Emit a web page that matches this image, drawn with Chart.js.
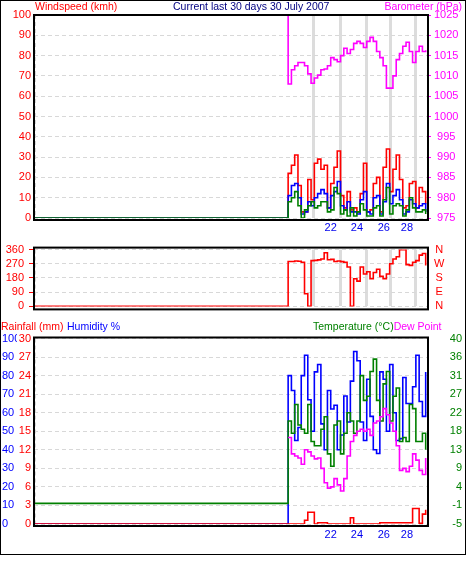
<!DOCTYPE html>
<html>
<head>
<meta charset="utf-8">
<script src="https://cdn.jsdelivr.net/npm/chart.js@4.4.0/dist/chart.umd.min.js"></script>
<style>
  html, body { margin: 0; padding: 0; background: #fff; }
  #page { position: relative; width: 466px; height: 563px; font: 10.5px "Liberation Sans", Arial, sans-serif; }
  #outline { position: absolute; left: 0; top: 0; width: 464px; height: 553px; border: 1px solid #000; }
  canvas { position: absolute; left: 0; }
  .lbl { position: absolute; white-space: nowrap; line-height: 12px; }
</style>
</head>
<body>
<div id="page">
  <div id="outline"></div>
  <canvas id="windChart" width="466" height="236" style="top:0"></canvas>
  <canvas id="dirChart" width="466" height="84" style="top:236px"></canvas>
  <canvas id="tempChart" width="466" height="243" style="top:320px"></canvas>

  <div class="lbl" style="left:35px;top:0;color:#ff0000">Windspeed (kmh)</div>
  <div class="lbl" style="left:173px;top:0;color:#000080">Current last 30 days 30 July 2007</div>
  <div class="lbl" style="right:4px;top:0;color:#ff00ff">Barometer (hPa)</div>

  <div class="lbl" style="left:1px;top:320px;color:#ff0000">Rainfall (mm)</div>
  <div class="lbl" style="left:67px;top:320px;color:#0000ff">Humidity %</div>
  <div class="lbl" style="left:313px;top:320px"><span style="color:#008000">Temperature (°C)</span><span style="color:#ff00ff">Dew Point</span></div>
</div>

<script>
// --- Data (x = day of the 30 day window; first point is the empty period before logging) ---

const days = [0,
  19.4, 19.65, 19.9, 20.15, 20.4, 20.65, 20.9, 21.15, 21.4, 21.65,
  21.9, 22.15, 22.4, 22.65, 22.9, 23.15, 23.4, 23.65, 23.9, 24.15,
  24.4, 24.65, 24.9, 25.15, 25.4, 25.65, 25.9, 26.15, 26.4, 26.65,
  26.9, 27.15, 27.4, 27.65, 27.9, 28.15, 28.4, 28.65, 28.9, 29.15,
  29.4, 29.65, 29.9];

const gustSpeed = [0,
  22, 26, 31, 16, 3, 3, 19, 9, 27, 29,
  24, 26, 5, 17, 25, 33, 11, 5, 13, 4,
  5, 3, 12, 27, 3, 4, 17, 20, 3, 25,
  34, 13, 24, 31, 19, 5, 6, 17, 18, 5,
  15, 13, 7];

const avgSpeed = [0,
  11, 16, 17, 10, 2, 3, 8, 6, 10, 12,
  14, 12, 5, 11, 13, 18, 6, 4, 8, 3,
  3, 2, 9, 13, 3, 2, 10, 11, 2, 8,
  17, 7, 11, 14, 9, 2, 3, 9, 7, 5,
  6, 7, 3];

const lowSpeed = [0,
  8, 10, 13, 6, 0, 4, 6, 8, 5, 6,
  8, 8, 3, 4, 15, 12, 2, 4, 1, 5,
  1, 3, 7, 4, 1, 1, 5, 6, 1, 9,
  15, 2, 6, 7, 6, 1, 4, 10, 5, 3,
  3, 4, 2];

const pressure = [1030,
  1008, 1011.5, 1012.5, 1013.3, 1013.3, 1012.5, 1010.5, 1008.2, 1009.5, 1010.2,
  1011.5, 1011.7, 1012.5, 1014.5, 1014, 1013.5, 1015, 1016.8, 1015.5, 1016.5,
  1018, 1018.5, 1018, 1017, 1018.5, 1019.5, 1018.5, 1016, 1014.5, 1012.5,
  1007, 1007, 1010, 1014, 1015.5, 1017.3, 1018.3, 1016, 1013.3, 1016,
  1017.3, 1016, 1016.3];

const windDir = [0,
  285, 285, 288, 286, 280, 80, 0, 290, 292, 295,
  300, 340, 296, 298, 285, 288, 284, 280, 250, 0,
  175, 160, 250, 205, 220, 175, 215, 235, 190, 175,
  205, 270, 300, 315, 360, 360, 265, 260, 280, 290,
  325, 335, 260];

const humidity = [0,
  80, 72, 45, 52, 80, 91, 67, 50, 82, 86,
  54, 40, 72, 62, 64, 40, 48, 69, 55, 77,
  93, 88, 55, 45, 78, 58, 40, 38, 82, 78,
  50, 86, 60, 45, 46, 79, 65, 65, 74, 91,
  66, 58, 82];

const temperature = [0,
  20, 17, 24, 19, 18, 17, 24, 15, 14, 14,
  18, 21, 12, 9, 19, 20, 12, 17, 22, 20,
  17, 20, 31, 25, 26, 32, 35, 25, 20, 29,
  32, 20, 26, 28, 15, 16, 15, 24, 23, 15,
  15, 17, 13];

const dewPoint = [null,
  16, 12, 11.5, 11, 9.5, 13, 12.5, 11.5, 10.8, 11,
  8.5, 5, 3.7, 4, 6, 4.5, 3, 6, 11.5, 15,
  16.5, 17.5, 18, 17.5, 18, 16.5, 19.5, 20, 21, 23,
  21.5, 19.5, 17.5, 14, 8, 8.5, 7.7, 9, 12, 10.5,
  8, 7, 11];

const rainfall = [0,
  0, 0, 0, 0, 0, 0.6, 1.9, 1.9, 0, 0.2,
  0.2, 0.2, 0, 0, 0, 0, 0, 0, 0, 1.0,
  0, 0, 0, 0, 0, 0, 0, 0, 0.2, 0.2,
  0.2, 0.2, 0.2, 0.2, 0.2, 0.2, 0.2, 0.2, 2.5, 2.5,
  0.1, 1.6, 2.3];

// axis ticks
const midnightDays = [21.35, 23.36, 25.4, 27.18, 29.14];
const labelDays = [22.65, 24.65, 26.7, 28.47];
const dayLabels = ['22', '24', '26', '28'];
const dirLabels = ['N', 'E', 'S', 'W', 'N'];
const tempTicks = [-5, -0.5, 4, 8.5, 13, 17.5, 22, 26.5, 31, 35.5, 40];
const tempTickLabels = ['-5', '-1', '4', '9', '13', '18', '22', '27', '31', '36', '40'];

// --- Helpers ---

Chart.defaults.font.family = '"Liberation Sans", Arial, sans-serif';
Chart.defaults.font.size = 11;

const GRID = '#d8d8d8';
const DASH = [4, 3];

const pts = arr => days.map((d, i) => ({ x: d, y: arr[i] }));
const plain = v => String(v);

function line(data, color, yAxisID) {
  return {
    data: pts(data),
    borderColor: color,
    borderWidth: 1.6,
    pointRadius: 0,
    stepped: true,
    fill: false,
    yAxisID: yAxisID,
    xAxisID: 'x',
  };
}

const fit = (w, h) => s => {
  if (w !== undefined) s.width = w;
  if (h !== undefined) s.height = h;
};

// frame drawn round the plot area
const framePlugin = {
  id: 'frame',
  afterDraw(chart, args, opts) {
    const { ctx, chartArea: a } = chart;
    ctx.save();
    ctx.strokeStyle = '#000';
    ctx.lineWidth = 2;
    ctx.strokeRect(a.left, a.top - opts.top, a.right - a.left + 1, a.bottom - a.top + opts.top + opts.bottom);
    ctx.restore();
  },
};

function xAxes(opts) {
  const scales = {
    x: {
      type: 'linear', min: 0, max: 30, weight: 2,
      display: opts.labels,
      grid: { display: false, drawTicks: false },
      border: { display: false },
      afterBuildTicks: s => { s.ticks = labelDays.map(v => ({ value: v })); },
      ticks: { autoSkip: false, maxRotation: 0, color: '#0000ee', padding: opts.pad || 0, callback: (v, i) => dayLabels[i] },
      afterFit: fit(undefined, opts.height),
    },
    xl: {
      type: 'linear', min: 0, max: 30, position: 'bottom', weight: 0,
      grid: { color: GRID, drawTicks: false },
      border: { display: false, dash: DASH },
      afterBuildTicks: s => { s.ticks = [{ value: 0.13 }]; },
      ticks: { display: false },
      afterFit: fit(undefined, 0),
    },
  };
  if (opts.midnight) {
    scales.xg = {
      type: 'linear', min: 0, max: 30, position: 'bottom', weight: 1,
      grid: { color: '#dcdcdc', lineWidth: 3, drawTicks: false },
      border: { display: false },
      afterBuildTicks: s => { s.ticks = midnightDays.map(v => ({ value: v })); },
      ticks: { display: false },
      afterFit: fit(undefined, 0),
    };
  }
  return scales;
}

const baseOptions = {
  responsive: false,
  devicePixelRatio: 1,
  animation: false,
  events: [],
};

// --- Charts ---

function initWindChart() {
  new Chart(document.getElementById('windChart'), {
    type: 'line',
    data: {
      datasets: [
        line(lowSpeed, '#008000', 'yw'),
        line(avgSpeed, '#0000ff', 'yw'),
        line(gustSpeed, '#ff0000', 'yw'),
        line(pressure, '#ff00ff', 'yb'),
      ],
    },
    options: {
      ...baseOptions,
      layout: { padding: { top: 15, left: 0, right: 0, bottom: 0 } },
      plugins: { legend: { display: false }, tooltip: { enabled: false }, frame: { top: 0, bottom: 2 } },
      scales: {
        ...xAxes({ labels: true, midnight: true, height: 18, pad: 3 }),
        yw: {
          position: 'left', min: 0, max: 100,
          ticks: { stepSize: 10, autoSkip: false, color: '#ff0000', padding: 3, callback: plain },
          grid: { color: GRID, drawTicks: false },
          border: { display: false, dash: DASH },
          afterFit: fit(34),
        },
        yb: {
          position: 'right', min: 975, max: 1025,
          ticks: { stepSize: 5, autoSkip: false, color: '#ff00ff', padding: 3, crossAlign: 'center', callback: plain },
          grid: { drawOnChartArea: false, drawTicks: true, tickLength: 4, tickColor: '#ff00ff', tickBorderDash: [] },
          border: { display: false },
          afterFit: fit(39),
        },
      },
    },
    plugins: [framePlugin],
  });
}

function initDirChart() {
  new Chart(document.getElementById('dirChart'), {
    type: 'line',
    data: {
      datasets: [line(windDir, '#ff0000', 'yd')],
    },
    options: {
      ...baseOptions,
      layout: { padding: { top: 9, left: 0, right: 0, bottom: 9 } },
      plugins: { legend: { display: false }, tooltip: { enabled: false }, frame: { top: 2, bottom: 3 } },
      scales: {
        ...xAxes({ labels: false, midnight: true }),
        yd: {
          position: 'left', min: 0, max: 360,
          ticks: { stepSize: 90, autoSkip: false, color: '#ff0000', padding: 5, callback: plain },
          grid: { color: GRID, drawTicks: true, tickLength: 5, tickColor: '#ff0000', tickBorderDash: [] },
          border: { display: false, dash: DASH },
          afterFit: fit(34),
        },
        ydr: {
          position: 'right', min: 0, max: 360,
          ticks: { stepSize: 90, autoSkip: false, color: '#ff0000', padding: 7, crossAlign: 'center', callback: (v, i) => dirLabels[i] },
          grid: { display: false, drawTicks: false },
          border: { display: false },
          afterFit: fit(39),
        },
      },
    },
    plugins: [framePlugin],
  });
}

function initTempChart() {
  new Chart(document.getElementById('tempChart'), {
    type: 'line',
    data: {
      datasets: [
        line(rainfall, '#ff0000', 'yr'),
        line(dewPoint, '#ff00ff', 'yt'),
        line(temperature, '#008000', 'yt'),
        line(humidity, '#0000ff', 'yh'),
      ],
    },
    options: {
      ...baseOptions,
      layout: { padding: { top: 18.5, left: 2, right: 4, bottom: 17 } },
      plugins: { legend: { display: false }, tooltip: { enabled: false }, frame: { top: 1, bottom: 2 } },
      scales: {
        ...xAxes({ labels: true, midnight: false, height: 22, pad: 4 }),
        yh: {
          position: 'left', weight: 1, min: 0, max: 100,
          ticks: { stepSize: 10, autoSkip: false, color: '#0000ff', padding: 0, crossAlign: 'far', callback: plain },
          grid: { display: false, drawTicks: false },
          border: { display: false },
          afterFit: fit(15),
        },
        yr: {
          position: 'left', weight: 0, min: 0, max: 30,
          ticks: { stepSize: 3, autoSkip: false, color: '#ff0000', padding: 3, callback: plain },
          grid: { color: GRID, drawTicks: false },
          border: { display: false, dash: DASH },
          afterFit: fit(17),
        },
        yt: {
          position: 'right', min: -5, max: 40,
          afterBuildTicks: s => { s.ticks = tempTicks.map(v => ({ value: v })); },
          ticks: { autoSkip: false, color: '#008000', crossAlign: 'far', callback: (v, i) => tempTickLabels[i] },
          grid: { drawOnChartArea: false, drawTicks: false },
          border: { display: false },
          afterFit: fit(35),
        },
      },
    },
    plugins: [framePlugin],
  });
}

// --- Init ---
initWindChart();
initDirChart();
initTempChart();
</script>
</body>
</html>
